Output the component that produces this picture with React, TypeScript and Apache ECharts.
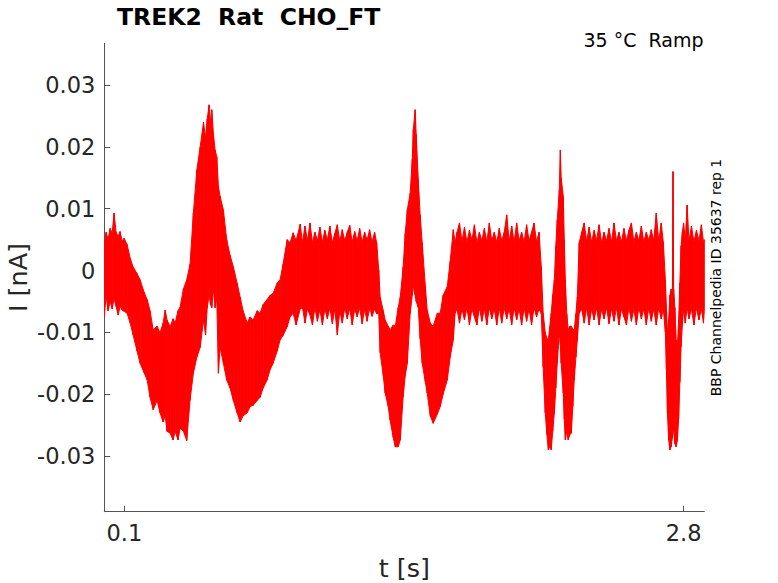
import React, { useEffect, useRef } from "react";
import * as echarts from "echarts";

// Envelope of the recorded current trace (time in s, current in nA)
const timeS = [
  0.003, 0.012, 0.021, 0.031, 0.041, 0.05, 0.06, 0.07, 0.079, 0.089,
  0.099, 0.113, 0.128, 0.142, 0.161, 0.176, 0.195, 0.21, 0.224, 0.239,
  0.258, 0.272, 0.287, 0.297, 0.306, 0.321, 0.335, 0.345, 0.359, 0.369,
  0.385, 0.401, 0.417, 0.433, 0.45, 0.466, 0.482, 0.492, 0.5, 0.509,
  0.516, 0.522, 0.53, 0.538, 0.546, 0.554, 0.562, 0.578, 0.594, 0.61,
  0.626, 0.644, 0.659, 0.673, 0.693, 0.707, 0.722, 0.741, 0.755, 0.77,
  0.789, 0.804, 0.818, 0.838, 0.852, 0.866, 0.886, 0.9, 0.915, 0.929,
  0.949,
  0.96, 0.972, 0.984, 0.996, 1.008, 1.02, 1.032, 1.044, 1.056, 1.068,
  1.08, 1.092, 1.104, 1.116, 1.128, 1.14, 1.152, 1.164, 1.176, 1.188,
  1.2, 1.212, 1.224, 1.236, 1.248, 1.26, 1.272, 1.284, 1.296, 1.308,
  1.318,
  1.328, 1.335, 1.35, 1.359, 1.374, 1.383, 1.398, 1.408, 1.422, 1.432,
  1.446, 1.456, 1.466, 1.48, 1.49, 1.495, 1.504, 1.509, 1.519, 1.528,
  1.538, 1.553, 1.562, 1.577, 1.591, 1.611, 1.625, 1.639, 1.659, 1.673,
  1.688, 1.697,
  1.706, 1.718, 1.73, 1.742, 1.754, 1.766, 1.778, 1.79, 1.802, 1.814,
  1.826, 1.838, 1.85, 1.862, 1.874, 1.886, 1.898, 1.91, 1.922, 1.934,
  1.946, 1.958, 1.97, 1.982, 1.994, 2.006, 2.018, 2.03, 2.042, 2.054,
  2.066, 2.078, 2.09, 2.102,
  2.113, 2.122, 2.132, 2.14, 2.147, 2.154, 2.161, 2.168, 2.176, 2.183,
  2.19, 2.2, 2.205, 2.209, 2.219, 2.224, 2.229, 2.236, 2.243, 2.251,
  2.258, 2.265, 2.272, 2.28, 2.287, 2.296,
  2.308, 2.32, 2.332, 2.344, 2.356, 2.368, 2.38, 2.392, 2.404, 2.416,
  2.428, 2.44, 2.452, 2.464, 2.476, 2.488, 2.5, 2.512, 2.524, 2.536,
  2.548, 2.56, 2.572, 2.584, 2.596, 2.608, 2.62, 2.632, 2.644, 2.656,
  2.668, 2.68, 2.692, 2.702,
  2.712, 2.717, 2.722, 2.728, 2.734, 2.74, 2.746, 2.749, 2.752, 2.758,
  2.764, 2.77, 2.776, 2.782, 2.788, 2.794, 2.8, 2.808, 2.817, 2.826,
  2.838, 2.85, 2.862, 2.874, 2.886, 2.896, 2.9,
];

const upperNA = [
  0.004, 0.0062, 0.005, 0.0068, 0.006, 0.0093, 0.0062, 0.0055, 0.0063, 0.0048,
  0.0052, 0.0042, 0.002, 0.0006, -0.0005, -0.0015, -0.0035, -0.0047, -0.0065, -0.0096,
  -0.009, -0.0101, -0.0085, -0.0064, -0.008, -0.0091, -0.0078, -0.0085, -0.0065, -0.0059,
  -0.003, -0.0015, 0.001, 0.0093, 0.0163, 0.02, 0.024, 0.0215, 0.0245, 0.0268,
  0.024, 0.026, 0.022, 0.0195, 0.0184, 0.0136, 0.012, 0.0098, 0.005, 0.0025,
  0.0006, -0.002, -0.0043, -0.0065, -0.0085, -0.0075, -0.008, -0.0065, -0.0069, -0.0055,
  -0.0047, -0.004, -0.0037, -0.002, -0.0015, 0.001, 0.005, 0.0045, 0.0061, 0.0048,
  0.0075,
  0.0045, 0.0072, 0.0048, 0.0077, 0.0045, 0.0062, 0.0048, 0.007, 0.0046, 0.0065,
  0.0049, 0.0072, 0.0045, 0.006, 0.0074, 0.0047, 0.0066, 0.0048, 0.0062, 0.0073,
  0.0046, 0.0063, 0.0048, 0.0068, 0.0046, 0.0062, 0.0049, 0.0066, 0.0046, 0.0062,
  0.0045,
  0.0001, -0.0043, -0.0065, -0.008, -0.009, -0.0096, -0.0088, -0.009, -0.006, -0.0043,
  0.0006, 0.006, 0.0098, 0.0125, 0.018, 0.0228, 0.026, 0.022, 0.0147, 0.009,
  0.0045, -0.0025, -0.0064, -0.0085, -0.009, -0.0069, -0.0069, -0.004, -0.0026, 0.0015,
  0.0066, 0.0045,
  0.0062, 0.0077, 0.0047, 0.007, 0.0046, 0.0065, 0.0049, 0.0074, 0.0045, 0.0062,
  0.0048, 0.0068, 0.0046, 0.0077, 0.0048, 0.0062, 0.0046, 0.0068, 0.0048, 0.0062,
  0.009, 0.0047, 0.0072, 0.0046, 0.0077, 0.0048, 0.0062, 0.0046, 0.0074, 0.0048,
  0.0062, 0.0077, 0.0046, 0.0062,
  0.0006, -0.0069, -0.01, -0.011, -0.0112, -0.009, -0.0069, -0.004, -0.0015, 0.004,
  0.0082, 0.013, 0.0195, 0.015, 0.012, 0.005, -0.0015, -0.007, -0.0096, -0.009,
  -0.009, -0.0095, -0.0096, -0.007, -0.0043, 0.0045,
  0.0062, 0.0077, 0.0047, 0.007, 0.0046, 0.0065, 0.0049, 0.0074, 0.0045, 0.0062,
  0.0048, 0.0068, 0.0046, 0.0077, 0.0048, 0.0062, 0.0046, 0.0068, 0.0048, 0.0065,
  0.0077, 0.0046, 0.0062, 0.0048, 0.0072, 0.0046, 0.0062, 0.0049, 0.0066, 0.0048,
  0.0093, 0.0047, 0.0077, 0.0046,
  -0.0015, -0.006, -0.01, -0.008, -0.004, -0.003, -0.004, 0.016, -0.003, -0.006,
  -0.0112, -0.0123, -0.008, -0.002, 0.004, 0.0062, 0.0077, 0.0048, 0.0106, 0.0048,
  0.0072, 0.0046, 0.0065, 0.0048, 0.0074, 0.0046, 0.005,
];

const lowerNA = [
  -0.0075, -0.004, -0.0065, -0.005, -0.0062, -0.0045, -0.0058, -0.0072, -0.0058, -0.0064,
  -0.0066, -0.0069, -0.0085, -0.0104, -0.013, -0.015, -0.0165, -0.0177, -0.0205, -0.0225,
  -0.021, -0.023, -0.0245, -0.0235, -0.026, -0.0263, -0.0274, -0.026, -0.0274, -0.0255,
  -0.026, -0.0275, -0.021, -0.0166, -0.014, -0.0124, -0.008, -0.0104, -0.006, -0.004,
  -0.0055, -0.006, -0.003, -0.006, -0.0045, -0.0166, -0.0124, -0.015, -0.0177, -0.019,
  -0.021, -0.023, -0.0245, -0.0235, -0.023, -0.022, -0.0218, -0.021, -0.0205, -0.019,
  -0.0177, -0.016, -0.015, -0.013, -0.0112, -0.0105, -0.0091, -0.0075, -0.0069, -0.0088,
  -0.0062,
  -0.006, -0.0085, -0.0062, -0.0072, -0.0088, -0.006, -0.0082, -0.0063, -0.0088, -0.0062,
  -0.0078, -0.006, -0.0086, -0.0062, -0.0104, -0.0065, -0.0085, -0.006, -0.0078, -0.0061,
  -0.0088, -0.0062, -0.0075, -0.006, -0.0086, -0.0063, -0.0082, -0.0061, -0.0074, -0.0062,
  -0.007,
  -0.0069, -0.0133, -0.017, -0.0198, -0.022, -0.0242, -0.027, -0.0285, -0.0285, -0.0274,
  -0.0204, -0.017, -0.015, -0.0069, -0.004, -0.0026, -0.004, -0.005, -0.006, -0.011,
  -0.015, -0.018, -0.0198, -0.0235, -0.0247, -0.0232, -0.022, -0.02, -0.0177, -0.014,
  -0.0112, -0.0069,
  -0.0062, -0.0085, -0.0062, -0.008, -0.006, -0.0088, -0.0062, -0.0075, -0.0088, -0.006,
  -0.0082, -0.0062, -0.0088, -0.006, -0.0078, -0.0062, -0.0088, -0.0061, -0.0085, -0.006,
  -0.0078, -0.0062, -0.0088, -0.006, -0.008, -0.0062, -0.0088, -0.006, -0.0082, -0.0062,
  -0.0088, -0.006, -0.0075, -0.0062,
  -0.007, -0.0156, -0.023, -0.0265, -0.029, -0.0285, -0.029, -0.026, -0.023, -0.019,
  -0.015, -0.01, -0.012, -0.015, -0.0198, -0.024, -0.0274, -0.026, -0.0274, -0.0265,
  -0.0263, -0.022, -0.0177, -0.014, -0.0112, -0.0069,
  -0.0062, -0.0085, -0.006, -0.0088, -0.0062, -0.008, -0.006, -0.0088, -0.0062, -0.0078,
  -0.006, -0.0086, -0.0062, -0.0082, -0.006, -0.0088, -0.0062, -0.0075, -0.0088, -0.006,
  -0.0082, -0.0062, -0.0088, -0.006, -0.0078, -0.0062, -0.0088, -0.006, -0.0082, -0.0062,
  -0.0088, -0.006, -0.0078, -0.0062,
  -0.01, -0.016, -0.023, -0.0274, -0.029, -0.0285, -0.027, -0.025, -0.026, -0.028,
  -0.0285, -0.0275, -0.024, -0.018, -0.0123, -0.0088, -0.0062, -0.0085, -0.006, -0.0078,
  -0.0062, -0.0088, -0.006, -0.008, -0.0062, -0.0085, -0.0065,
];

const xTickValues = [0.1, 2.8];
const yTickValues = [-0.03, -0.02, -0.01, 0, 0.01, 0.02, 0.03];
const xRange = [0.003, 2.9];
const yRange = [-0.039, 0.03675];

const titleText = "TREK2  Rat  CHO_FT";
const conditionText = "35 °C  Ramp";
const sourceText = "BBP Channelpedia ID 35637 rep 1";
const xName = "t [s]";
const yName = "I [nA]";

const FONT = "DejaVu Sans";
const AXIS_COLOR = "#555555";
const TEXT_COLOR = "#262626";
const TRACE = "#ff0000";

export default function App() {
  const ref = useRef<HTMLDivElement>(null);

  useEffect(() => {
    if (!ref.current) return;
    const chart = echarts.init(ref.current, null, { renderer: "svg" });
    // one quad per pair of neighbouring envelope samples
    const bandData = timeS.slice(0, -1).map((t, i) => [
      t,
      upperNA[i],
      lowerNA[i],
      timeS[i + 1],
      upperNA[i + 1],
      lowerNA[i + 1],
    ]);
    const fmt = (v: number) => `${+Number(v).toFixed(2)}`;

    chart.setOption({
      animation: false,
      backgroundColor: "#ffffff",
      grid: {
        left: 104.3,
        right: 73.7,
        top: 43.3,
        bottom: 71.3,
        containLabel: false,
        outerBoundsMode: "none",
      },
      xAxis: {
        type: "value",
        min: xRange[0],
        max: xRange[1],
        axisLine: { show: true, onZero: false, lineStyle: { color: AXIS_COLOR, width: 1 } },
        axisTick: {
          show: true,
          inside: true,
          length: 6,
          customValues: xTickValues,
          lineStyle: { color: AXIS_COLOR, width: 1 },
        },
        axisLabel: {
          customValues: xTickValues,
          formatter: fmt,
          color: TEXT_COLOR,
          fontFamily: FONT,
          fontSize: 22.5,
          margin: 10,
        },
        splitLine: { show: false },
      },
      yAxis: {
        type: "value",
        min: yRange[0],
        max: yRange[1],
        axisLine: { show: true, onZero: false, lineStyle: { color: AXIS_COLOR, width: 1 } },
        axisTick: {
          show: true,
          inside: true,
          length: 6,
          customValues: yTickValues,
          lineStyle: { color: AXIS_COLOR, width: 1 },
        },
        axisLabel: {
          customValues: yTickValues,
          formatter: fmt,
          color: TEXT_COLOR,
          fontFamily: FONT,
          fontSize: 22.5,
          margin: 9,
        },
        splitLine: { show: false },
      },
      series: [
        {
          type: "custom",
          name: "I",
          data: bandData,
          encode: { x: [0, 3], y: [1, 2, 4, 5] },
          silent: true,
          clip: true,
          renderItem: (params: any, api: any) => {
            const p1 = api.coord([api.value(0), api.value(1)]);
            const p2 = api.coord([api.value(3), api.value(4)]);
            const p3 = api.coord([api.value(3), api.value(5)]);
            const p4 = api.coord([api.value(0), api.value(2)]);
            return {
              type: "polygon",
              shape: { points: [p1, p2, p3, p4] },
              style: { fill: TRACE, stroke: TRACE, lineWidth: 1, lineJoin: "miter" },
            };
          },
        },
      ],
      graphic: [
        {
          type: "text",
          z: 100,
          x: 117,
          y: 16.5,
          style: {
            text: titleText,
            font: `bold 23.5px "${FONT}"`,
            fill: "#000000",
            align: "left",
            verticalAlign: "middle",
          },
        },
        {
          type: "text",
          z: 100,
          x: 703.5,
          y: 40,
          style: {
            text: conditionText,
            font: `19px "${FONT}"`,
            fill: "#000000",
            align: "right",
            verticalAlign: "middle",
          },
        },
        {
          type: "text",
          z: 100,
          x: 716,
          y: 277.5,
          rotation: Math.PI / 2,
          style: {
            text: sourceText,
            font: `14px "${FONT}"`,
            fill: "#000000",
            align: "center",
            verticalAlign: "middle",
          },
        },
        {
          type: "text",
          z: 100,
          x: 404.3,
          y: 567.5,
          style: {
            text: xName,
            font: `25.5px "${FONT}"`,
            fill: TEXT_COLOR,
            align: "center",
            verticalAlign: "middle",
          },
        },
        {
          type: "text",
          z: 100,
          x: 18,
          y: 277.5,
          rotation: Math.PI / 2,
          style: {
            text: yName,
            font: `25.5px "${FONT}"`,
            fill: TEXT_COLOR,
            align: "center",
            verticalAlign: "middle",
          },
        },
      ],
    });

    return () => chart.dispose();
  }, []);

  return (
    <div
      ref={ref}
      style={{ position: "fixed", left: 0, top: 0, width: 778, height: 583 }}
    />
  );
}
